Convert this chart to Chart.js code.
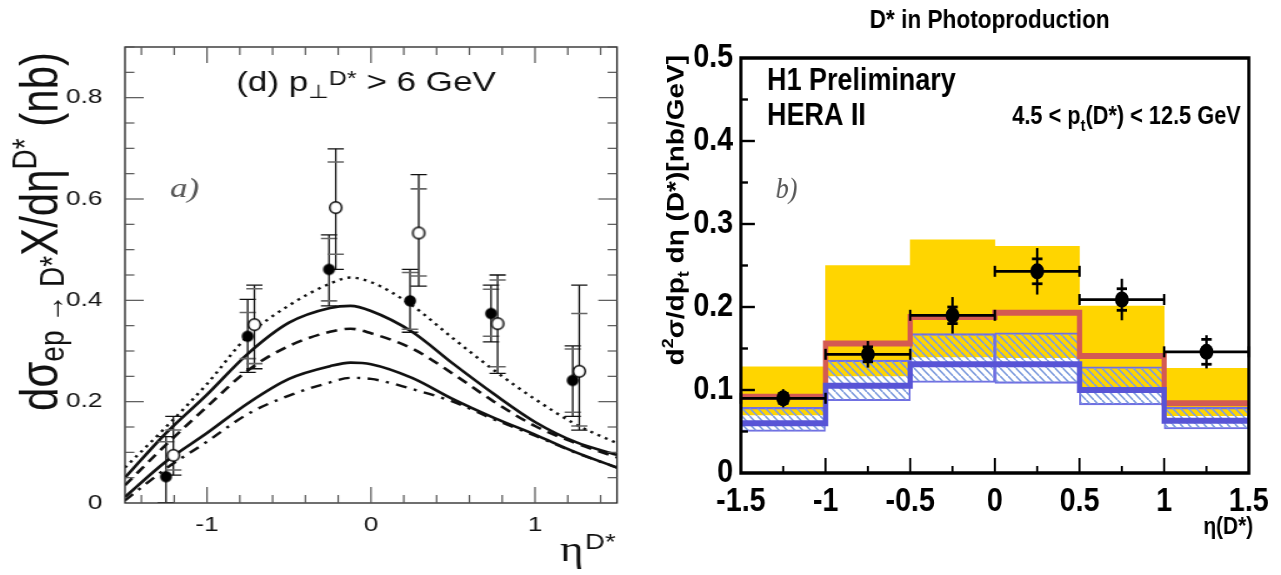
<!DOCTYPE html>
<html>
<head>
<meta charset="utf-8">
<script src="https://cdn.jsdelivr.net/npm/chart.js@4.4.1/dist/chart.umd.min.js"></script>
<style>
  html, body { margin: 0; padding: 0; background: #fff; }
  #wrap { position: relative; width: 1281px; height: 575px; overflow: hidden; }
  #left { position: absolute; left: 0; top: 0; transform: scaleX(1.25); transform-origin: 0 0; }
  #right { position: absolute; left: 640px; top: 0; transform: scaleX(0.86974); transform-origin: 0 0; }
</style>
</head>
<body>
<div id="wrap">
  <canvas id="left" width="512" height="575"></canvas>
  <canvas id="right" width="737" height="575"></canvas>
</div>
<script>
// ---- panel a): NLO curves + ZEUS points ----
const etaGrid = [-1.5, -1.25, -1, -0.75, -0.5, -0.25, -0.125, 0, 0.25, 0.5, 0.75, 1, 1.25, 1.5];
const curveDotted    = [0.07, 0.15, 0.235, 0.33, 0.39, 0.433, 0.445, 0.436, 0.39, 0.325, 0.262, 0.205, 0.155, 0.118];
const curveSolidHigh = [0.05, 0.138, 0.214, 0.295, 0.356, 0.385, 0.389, 0.379, 0.338, 0.275, 0.215, 0.16, 0.12, 0.095];
const curveDashed    = [0.035, 0.115, 0.19, 0.262, 0.31, 0.338, 0.344, 0.335, 0.305, 0.255, 0.2, 0.152, 0.118, 0.09];
const curveSolidLow  = [0.012, 0.082, 0.138, 0.197, 0.245, 0.27, 0.277, 0.274, 0.247, 0.205, 0.168, 0.135, 0.1, 0.07];
const curveDashDot   = [0.005, 0.068, 0.121, 0.176, 0.212, 0.238, 0.247, 0.245, 0.225, 0.2, 0.165, 0.133, 0.099, 0.07];

const etaFilled    = [-1.25, -0.752, -0.256, 0.238, 0.732, 1.23];
const filledVal    = [0.052, 0.329, 0.461, 0.399, 0.374, 0.242];
const filledTotLo  = [0.0, 0.258, 0.389, 0.337, 0.318, 0.171];
const filledTotHi  = [0.131, 0.402, 0.529, 0.461, 0.430, 0.310];
const filledStatLo = [0.0, 0.285, 0.399, 0.343, 0.329, 0.179];
const filledStatHi = [0.121, 0.376, 0.522, 0.455, 0.422, 0.304];

const etaOpen    = [-1.205, -0.711, -0.215, 0.291, 0.772, 1.27];
const openVal    = [0.094, 0.352, 0.583, 0.533, 0.354, 0.260];
const openTotLo  = [0.055, 0.265, 0.461, 0.428, 0.256, 0.144];
const openTotHi  = [0.171, 0.430, 0.699, 0.648, 0.450, 0.430];
const openStatLo = [0.065, 0.275, 0.491, 0.448, 0.269, 0.152];
const openStatHi = [0.144, 0.423, 0.673, 0.620, 0.440, 0.374];

const leftXTicks = [-1, 0, 1];
const leftYTicks = [0, 0.2, 0.4, 0.6, 0.8];

// ---- panel b): H1 photoproduction ----
const binEdges   = [-1.5, -1, -0.5, 0, 0.5, 1, 1.5];
const binCenters = [-1.25, -0.75, -0.25, 0.25, 0.75, 1.25];
const yellowLow  = [0.070, 0.117, 0.140, 0.139, 0.100, 0.069];
const yellowHigh = [0.128, 0.250, 0.281, 0.273, 0.201, 0.126];
const redCentral = [0.092, 0.156, 0.188, 0.193, 0.141, 0.084];
const hatchLow   = [0.050, 0.087, 0.109, 0.108, 0.082, 0.053];
const hatchHigh  = [0.079, 0.136, 0.168, 0.169, 0.128, 0.079];
const blueCentral = [0.060, 0.105, 0.131, 0.131, 0.100, 0.063];
const h1Value = [0.090, 0.143, 0.190, 0.243, 0.209, 0.146];
const h1Stat  = [0.006, 0.009, 0.010, 0.015, 0.013, 0.015];
const h1Total = [0.011, 0.016, 0.022, 0.028, 0.025, 0.020];

const rightXTicks = [-1.5, -1, -0.5, 0, 0.5, 1, 1.5];
const rightYTicks = [0, 0.1, 0.2, 0.3, 0.4, 0.5];

const sans = "'Liberation Sans', 'DejaVu Sans', sans-serif";
const serif = "'Liberation Serif', 'DejaVu Serif', serif";

// text made of pieces: [text, size, baseline shift]
function partsWidth(ctx, parts, pre) {
  let w = 0;
  for (const [t, size] of parts) {
    ctx.font = `${pre} ${size}px ${sans}`;
    w += ctx.measureText(t).width;
  }
  return w;
}
function drawParts(ctx, parts, x, y, pre, fam) {
  let cx = x;
  for (const [t, size, dy] of parts) {
    ctx.font = `${pre} ${size}px ${fam || sans}`;
    ctx.fillText(t, cx, y + (dy || 0));
    cx += ctx.measureText(t).width;
  }
}

function ellipseMarker(rx, ry, fill, stroke, lw) {
  const c = document.createElement('canvas');
  c.width = Math.ceil(2 * rx + lw + 2);
  c.height = Math.ceil(2 * ry + lw + 2);
  const g = c.getContext('2d');
  g.beginPath();
  g.ellipse(c.width / 2, c.height / 2, rx, ry, 0, 0, Math.PI * 2);
  g.fillStyle = fill;
  g.fill();
  if (stroke) { g.lineWidth = lw; g.strokeStyle = stroke; g.stroke(); }
  return c;
}

function hatchPattern() {
  const c = document.createElement('canvas');
  c.width = 9; c.height = 8;
  const g = c.getContext('2d');
  g.strokeStyle = 'rgb(128,158,222)';
  g.lineWidth = 1.8;
  for (const dx of [-9, 0, 9]) {
    g.beginPath(); g.moveTo(dx, 0); g.lineTo(dx + 9, 8); g.stroke();
  }
  return g.createPattern(c, 'repeat');
}

function line(ctx, x1, y1, x2, y2) {
  ctx.beginPath(); ctx.moveTo(x1, y1); ctx.lineTo(x2, y2); ctx.stroke();
}

// ---------- left chart ----------
function curve(vals, dash, width) {
  return {
    type: 'line', data: etaGrid.map((e, i) => ({ x: e, y: vals[i] })),
    borderColor: '#111', borderWidth: width, borderDash: dash,
    pointRadius: 0, cubicInterpolationMode: 'monotone', fill: false, order: 2
  };
}

function drawLeftErrors(chart) {
  const { ctx, chartArea: a, scales: { x, y } } = chart;
  ctx.save();
  ctx.beginPath(); ctx.rect(a.left, a.top, a.width, a.height); ctx.clip();
  const sets = [
    [etaFilled, filledTotLo, filledTotHi, filledStatLo, filledStatHi],
    [etaOpen, openTotLo, openTotHi, openStatLo, openStatHi]
  ];
  for (const [eta, tLo, tHi, sLo, sHi] of sets) {
    eta.forEach((e, i) => {
      const px = x.getPixelForValue(e);
      ctx.strokeStyle = '#111'; ctx.lineWidth = 1.3;
      line(ctx, px, y.getPixelForValue(tLo[i]), px, y.getPixelForValue(tHi[i]));
      for (const v of [tLo[i], tHi[i]]) {
        const py = y.getPixelForValue(v);
        line(ctx, px - 6.5, py, px + 6.5, py);
      }
      ctx.strokeStyle = '#666'; ctx.lineWidth = 1.6;
      for (const v of [sLo[i], sHi[i]]) {
        const py = y.getPixelForValue(v);
        line(ctx, px - 6.5, py, px + 6.5, py);
      }
    });
  }
  ctx.restore();
}

const leftDecor = {
  id: 'leftDecor',
  beforeDatasetDraw(chart, args) {
    if (args.index === 5) drawLeftErrors(chart);
  },
  afterDraw(chart) {
    const { ctx, chartArea: a, scales: { x, y } } = chart;
    ctx.save();
    // frame and inward ticks on all sides
    ctx.strokeStyle = '#222'; ctx.lineWidth = 1.3;
    ctx.strokeRect(a.left, a.top, a.width, a.height);
    ctx.strokeStyle = '#555'; ctx.lineWidth = 1.2;
    for (let k = -7; k <= 7; k++) {
      const px = x.getPixelForValue(k * 0.2);
      const len = k % 5 === 0 ? 16 : 8;
      line(ctx, px, a.bottom, px, a.bottom - len);
      line(ctx, px, a.top, px, a.top + len);
    }
    for (let k = 1; k <= 18; k++) {
      const py = y.getPixelForValue(k * 0.05);
      const len = k % 4 === 0 ? 15 : 7.5;
      line(ctx, a.left, py, a.left + len, py);
      line(ctx, a.right, py, a.right - len, py);
    }
    ctx.fillStyle = '#111';
    ctx.textAlign = 'left'; ctx.textBaseline = 'alphabetic';
    drawParts(ctx, [['(d) p', 28, 0], ['\u22A5', 19, 7], ['D*', 20, -6], [' > 6 GeV', 28, 0]], 189, 91, '');
    // axis titles
    drawParts(ctx, [['\u03B7', 36, 0]], 448, 561, '', serif);
    drawParts(ctx, [['D*', 22, 0]], 468, 549, '');
    const yt = [['d\u03C3', 42, 0], ['ep \u2192 D*', 28, 5], ['X', 42, 0], ['/d\u03B7', 42, 0], ['D*', 28, -17], [' (nb)', 42, 0]];
    const w = partsWidth(ctx, yt, '');
    ctx.save();
    ctx.translate(46, 52 + w);
    ctx.rotate(-Math.PI / 2);
    drawParts(ctx, yt, 0, 0, '');
    ctx.restore();
    ctx.fillStyle = '#555';
    drawParts(ctx, [['a)', 28, 0]], 136, 197, 'italic', serif);
    ctx.restore();
  }
};

new Chart(document.getElementById('left'), {
  type: 'line',
  data: {
    datasets: [
      curve(curveDotted, [2.4, 4.2], 2.4),
      curve(curveSolidHigh, [], 2.6),
      curve(curveDashed, [9, 6], 2.6),
      curve(curveSolidLow, [], 2.6),
      curve(curveDashDot, [9, 6, 2.5, 6], 2.4),
      { type: 'scatter', label: 'filled', data: etaFilled.map((e, i) => ({ x: e, y: filledVal[i] })),
        pointStyle: ellipseMarker(4.8, 5.8, '#000', null, 0), pointRadius: 6, order: 1 },
      { type: 'scatter', label: 'open', data: etaOpen.map((e, i) => ({ x: e, y: openVal[i] })),
        pointStyle: ellipseMarker(4.8, 5.8, '#fff', '#000', 1.4), pointRadius: 6, order: 0 }
    ]
  },
  options: {
    responsive: false,
    animation: false,
    layout: { padding: { left: 0, right: 18.4, top: 47, bottom: 0 } },
    plugins: { legend: { display: false }, tooltip: { enabled: false } },
    scales: {
      x: {
        type: 'linear', min: -1.5, max: 1.5,
        afterBuildTicks: (s) => { s.ticks = leftXTicks.map(v => ({ value: v })); },
        afterFit: (s) => { s.height = 72; },
        grid: { display: false, drawTicks: false }, border: { display: false },
        ticks: { padding: 10, color: '#111', font: { family: sans, size: 21 },
                 autoSkip: false, maxRotation: 0, callback: v => String(v) }
      },
      y: {
        type: 'linear', min: 0, max: 0.9,
        afterBuildTicks: (s) => { s.ticks = leftYTicks.map(v => ({ value: v })); },
        afterFit: (s) => { s.width = 100; },
        grid: { display: false, drawTicks: false }, border: { display: false },
        ticks: { padding: 18, color: '#111', font: { family: sans, size: 21 }, callback: v => String(v) }
      }
    }
  },
  plugins: [leftDecor]
});

// ---------- right chart ----------
function steps(vals) {
  const pts = binEdges.slice(0, -1).map((e, i) => ({ x: e, y: vals[i] }));
  pts.push({ x: binEdges[binEdges.length - 1], y: vals[vals.length - 1] });
  return pts;
}
function band(lo, hi) {
  return binCenters.map((c, i) => ({ x: c, y: [lo[i], hi[i]] }));
}

const rightDecor = {
  id: 'rightDecor',
  beforeDatasetDraw(chart, args) {
    if (args.index !== 0) return;
    const { ctx, scales: { x, y } } = chart;
    ctx.save();
    ctx.strokeStyle = '#000'; ctx.lineWidth = 2.8;
    binCenters.forEach((c, i) => {
      const px = x.getPixelForValue(c);
      const py = y.getPixelForValue(h1Value[i]);
      line(ctx, px, y.getPixelForValue(h1Value[i] - h1Total[i]), px, y.getPixelForValue(h1Value[i] + h1Total[i]));
      for (const s of [-1, 1]) {
        const sy = y.getPixelForValue(h1Value[i] + s * h1Stat[i]);
        line(ctx, px - 6, sy, px + 6, sy);
      }
      const x0 = x.getPixelForValue(binEdges[i]);
      const x1 = x.getPixelForValue(binEdges[i + 1]);
      line(ctx, x0, py, x1, py);
      line(ctx, x0, py - 5.5, x0, py + 5.5);
      line(ctx, x1, py - 5.5, x1, py + 5.5);
    });
    ctx.restore();
  },
  afterDraw(chart) {
    const { ctx, chartArea: a, scales: { x, y } } = chart;
    ctx.save();
    ctx.strokeStyle = '#000'; ctx.lineWidth = 3.5;
    ctx.strokeRect(a.left, a.top, a.width, a.height);
    ctx.lineWidth = 2.4;
    for (let k = -5; k <= 5; k++) {
      const px = x.getPixelForValue(k * 0.25);
      line(ctx, px, a.bottom, px, a.bottom - (k % 2 === 0 ? 15 : 7));
    }
    for (let k = 1; k <= 9; k++) {
      const py = y.getPixelForValue(k * 0.05);
      line(ctx, a.left, py, a.left + (k % 2 === 0 ? 16 : 8), py);
    }
    ctx.fillStyle = '#000';
    ctx.textAlign = 'left'; ctx.textBaseline = 'alphabetic';
    const title = [['D* in Photoproduction', 26, 0]];
    drawParts(ctx, title, 402 - partsWidth(ctx, title, 'bold') / 2, 28, 'bold');
    drawParts(ctx, [['H1 Preliminary', 31, 0]], 146, 90, 'bold');
    drawParts(ctx, [['HERA II', 31, 0]], 146, 125, 'bold');
    drawParts(ctx, [['4.5 < p', 25, 0], ['t', 17, 7], ['(D*) < 12.5 GeV', 25, 0]], 428, 124, 'bold');
    const xt = [['\u03B7(D*)', 24, 0]];
    drawParts(ctx, xt, 705 - partsWidth(ctx, xt, 'bold'), 534, 'bold');
    const yt = [['d', 28, 0], ['2', 18, -12], ['\u03C3/dp', 28, 0], ['t', 18, 6], [' d\u03B7 (D*)[nb/GeV]', 28, 0]];
    const w = partsWidth(ctx, yt, 'bold');
    ctx.save();
    ctx.translate(50, 55 + w);
    ctx.rotate(-Math.PI / 2);
    drawParts(ctx, yt, 0, 0, 'bold');
    ctx.restore();
    ctx.fillStyle = '#555';
    drawParts(ctx, [['b)', 30, 0]], 156, 198, 'italic', serif);
    ctx.restore();
  }
};

new Chart(document.getElementById('right'), {
  type: 'bar',
  data: {
    datasets: [
      { type: 'scatter', data: binCenters.map((c, i) => ({ x: c, y: h1Value[i] })),
        pointRadius: 8, pointStyle: 'circle', backgroundColor: '#000', borderWidth: 0, order: 0 },
      { type: 'line', data: steps(blueCentral), stepped: true, borderColor: 'rgb(88,84,214)',
        borderWidth: 6, pointRadius: 0, fill: false, borderCapStyle: 'butt', borderJoinStyle: 'miter', order: 1 },
      { type: 'line', data: steps(redCentral), stepped: true, borderColor: 'rgb(212,90,82)',
        borderWidth: 6, pointRadius: 0, fill: false, borderCapStyle: 'butt', borderJoinStyle: 'miter', order: 2 },
      { type: 'bar', data: band(hatchLow, hatchHigh), backgroundColor: hatchPattern(),
        borderColor: 'rgb(112,112,226)', borderWidth: 1.5, borderSkipped: false,
        grouped: false, barPercentage: 1, categoryPercentage: 1, order: 3 },
      { type: 'bar', data: band(yellowLow, yellowHigh), backgroundColor: 'rgb(255,213,0)',
        borderWidth: 0, grouped: false, barPercentage: 1, categoryPercentage: 1, order: 4 }
    ]
  },
  options: {
    responsive: false,
    animation: false,
    layout: { padding: { left: 0, right: 37, top: 58, bottom: 0 } },
    plugins: { legend: { display: false }, tooltip: { enabled: false } },
    scales: {
      x: {
        type: 'linear', min: -1.5, max: 1.5, offset: false,
        afterBuildTicks: (s) => { s.ticks = rightXTicks.map(v => ({ value: v })); },
        afterFit: (s) => { s.height = 102; },
        grid: { display: false, drawTicks: false, offset: false }, border: { display: false },
        ticks: { padding: 9, color: '#000', font: { family: sans, size: 33, weight: 'bold' },
                 autoSkip: false, maxRotation: 0, callback: v => String(v) }
      },
      y: {
        type: 'linear', min: 0, max: 0.5,
        afterBuildTicks: (s) => { s.ticks = rightYTicks.map(v => ({ value: v })); },
        afterFit: (s) => { s.width = 116; },
        grid: { display: false, drawTicks: false }, border: { display: false },
        ticks: { padding: 9, color: '#000', font: { family: sans, size: 33, weight: 'bold' }, callback: v => String(v) }
      }
    }
  },
  plugins: [rightDecor]
});
</script>
</body>
</html>
